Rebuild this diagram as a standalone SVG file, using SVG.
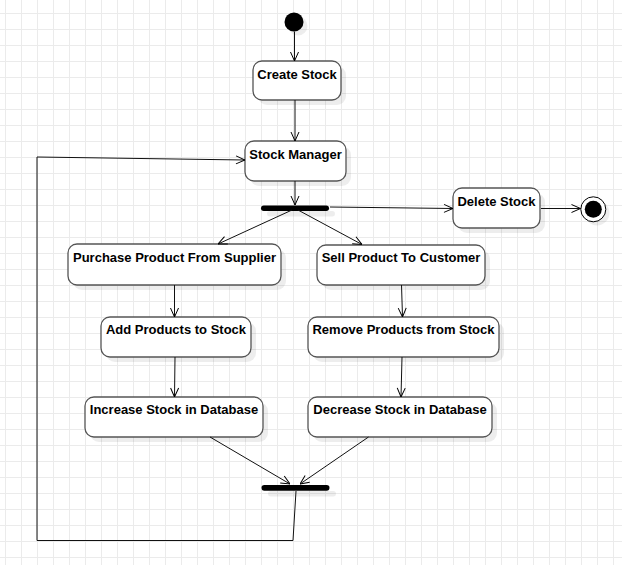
<svg xmlns="http://www.w3.org/2000/svg" width="622" height="565" viewBox="0 0 622 565">
<defs>
<pattern id="grid" x="5" y="13" width="16" height="16" patternUnits="userSpaceOnUse">
<path d="M0 0.5H16M0.5 0V16" fill="none" stroke="#ebebeb" stroke-width="1"/>
</pattern>
<marker id="arr" viewBox="0 0 10 10" refX="10" refY="5" markerWidth="10" markerHeight="10" markerUnits="userSpaceOnUse" orient="auto">
<path d="M1,1 L10,5 L1,9" fill="none" stroke="#000" stroke-width="1"/>
</marker>
</defs>
<style>
.box{fill:#fff;stroke:#555;stroke-width:1.3}
.sh{fill:#000;fill-opacity:0.07}
.lbl{font-family:"Liberation Sans",Arial,sans-serif;font-size:13px;font-weight:bold;fill:#000;text-anchor:middle}
.con{fill:none;stroke:#111;stroke-width:1}
.bar{fill:#000}
</style>
<rect width="622" height="565" fill="#fff"/>
<rect width="622" height="565" fill="url(#grid)"/>

<g id="start">
<circle class="sh" cx="298" cy="26" r="9.5"/>
<circle cx="294" cy="22" r="9.5" fill="#000"/>
</g>

<g id="create-stock">
<rect class="sh" x="258" y="66" width="88" height="39" rx="9"/>
<rect class="box" x="253" y="61" width="88" height="39" rx="9"/>
<text class="lbl" x="297" y="78.5">Create Stock</text>
</g>

<g id="stock-manager">
<rect class="sh" x="250" y="146" width="101" height="40" rx="9"/>
<rect class="box" x="245" y="141" width="101" height="40" rx="9"/>
<text class="lbl" x="295.5" y="158.5">Stock Manager</text>
</g>

<g id="fork">
<rect class="sh" x="267" y="211" width="68" height="5.5" rx="2.75"/>
<rect class="bar" x="261" y="205.5" width="68" height="5.5" rx="2.75"/>
</g>

<g id="delete-stock">
<rect class="sh" x="458" y="193" width="87" height="40" rx="9"/>
<rect class="box" x="453" y="188" width="87" height="40" rx="9"/>
<text class="lbl" x="496.5" y="205.5">Delete Stock</text>
</g>

<g id="end">
<circle class="sh" cx="597" cy="213" r="12.5"/>
<circle cx="593.3" cy="209.3" r="12.5" fill="#fff" stroke="#000" stroke-width="1"/>
<circle cx="593.3" cy="209.3" r="8.5" fill="#000"/>
</g>

<g id="purchase">
<rect class="sh" x="73" y="249" width="213" height="41" rx="9"/>
<rect class="box" x="68" y="244" width="213" height="41" rx="9"/>
<text class="lbl" x="174.5" y="262">Purchase Product From Supplier</text>
</g>

<g id="sell">
<rect class="sh" x="322" y="250" width="168" height="40" rx="9"/>
<rect class="box" x="317" y="245" width="168" height="40" rx="9"/>
<text class="lbl" x="401" y="262">Sell Product To Customer</text>
</g>

<g id="add-products">
<rect class="sh" x="106" y="322" width="150" height="40" rx="9"/>
<rect class="box" x="101" y="317" width="150" height="40" rx="9"/>
<text class="lbl" x="176" y="334">Add Products to Stock</text>
</g>

<g id="remove-products">
<rect class="sh" x="313" y="322" width="191" height="40" rx="9"/>
<rect class="box" x="308" y="317" width="191" height="40" rx="9"/>
<text class="lbl" x="403.5" y="334">Remove Products from Stock</text>
</g>

<g id="increase-stock">
<rect class="sh" x="90" y="402" width="178" height="40" rx="9"/>
<rect class="box" x="85" y="397" width="178" height="40" rx="9"/>
<text class="lbl" x="174" y="414">Increase Stock in Database</text>
</g>

<g id="decrease-stock">
<rect class="sh" x="313" y="402" width="184" height="40" rx="9"/>
<rect class="box" x="308" y="397" width="184" height="40" rx="9"/>
<text class="lbl" x="400" y="414">Decrease Stock in Database</text>
</g>

<g id="join">
<rect class="sh" x="268" y="491" width="68" height="5.5" rx="2.75"/>
<rect class="bar" x="261.5" y="485" width="68" height="5.7" rx="2.85"/>
</g>

<g id="connectors">
<path class="con" d="M294.5 31.5 V61" marker-end="url(#arr)"/>
<path class="con" d="M295 100 V141" marker-end="url(#arr)"/>
<path class="con" d="M295 181 V205" marker-end="url(#arr)"/>
<path class="con" d="M330 207 L453 208.5" marker-end="url(#arr)"/>
<path class="con" d="M541 208.5 H580.5" marker-end="url(#arr)"/>
<path class="con" d="M292 210 L218 244" marker-end="url(#arr)"/>
<path class="con" d="M298 210 L362 244.5" marker-end="url(#arr)"/>
<path class="con" d="M174.5 285 V317" marker-end="url(#arr)"/>
<path class="con" d="M401.5 285 L402.5 317" marker-end="url(#arr)"/>
<path class="con" d="M175 357 L174.5 397" marker-end="url(#arr)"/>
<path class="con" d="M402 357 L401 397" marker-end="url(#arr)"/>
<path class="con" d="M210 437 L290 484" marker-end="url(#arr)"/>
<path class="con" d="M368.5 437 L300 484" marker-end="url(#arr)"/>
<path class="con" d="M296 491 L293 540.5 H37 V157 L245 160" marker-end="url(#arr)"/>
</g>
</svg>
